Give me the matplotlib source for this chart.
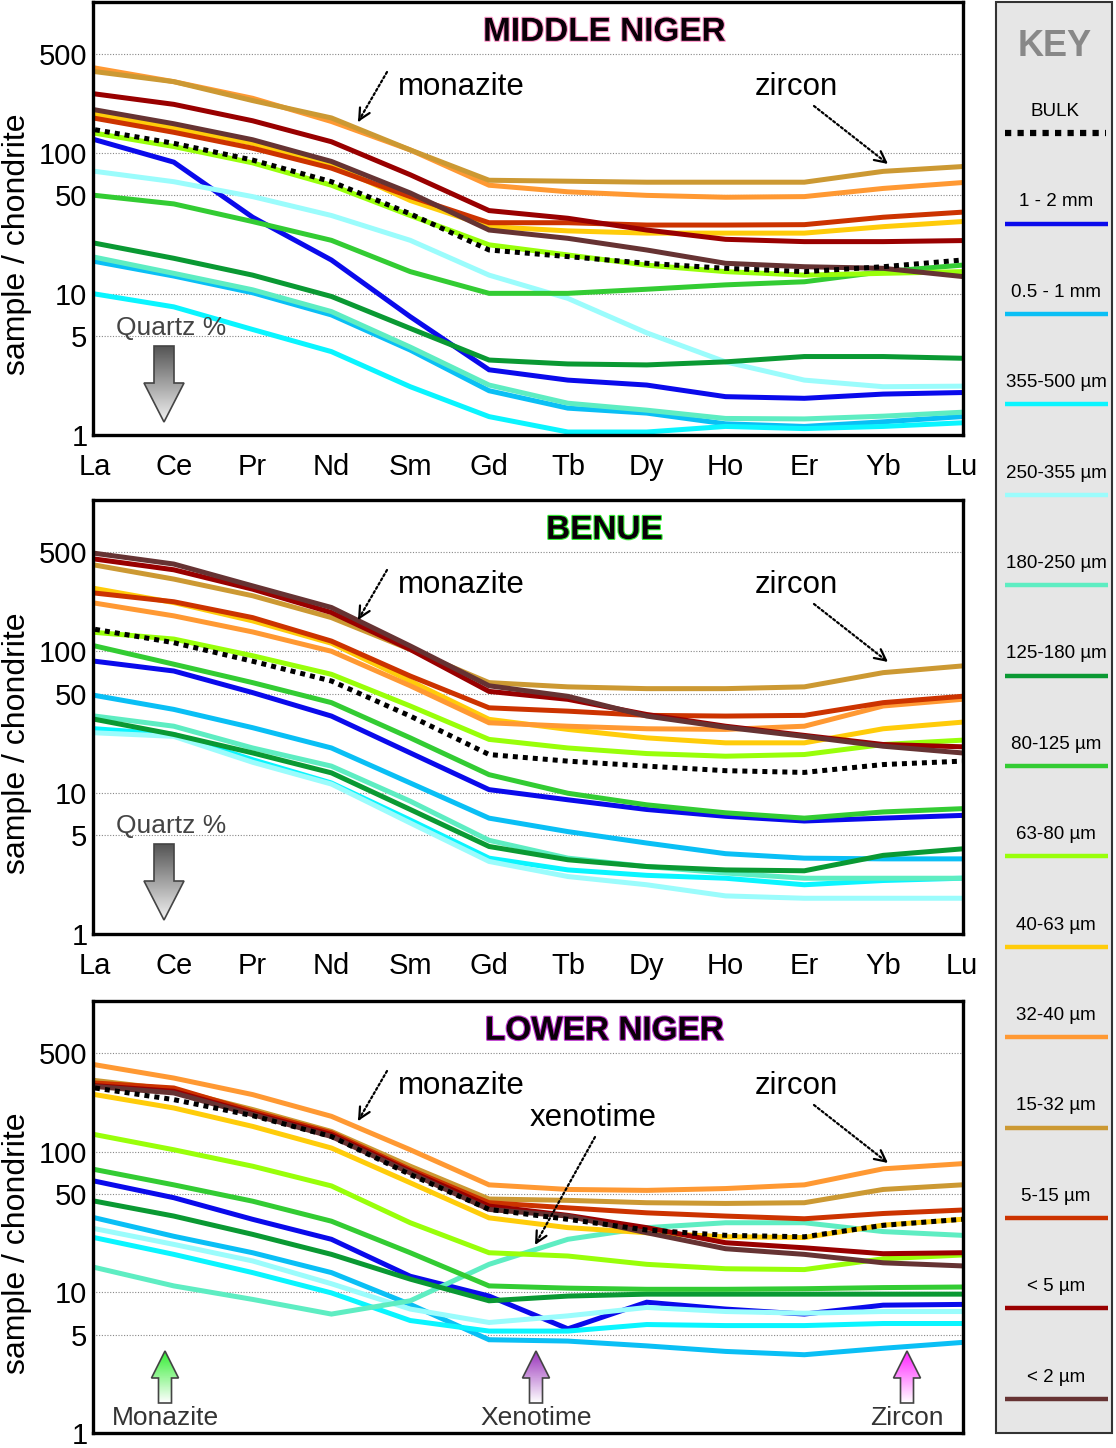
import numpy as np
import matplotlib
matplotlib.use("Agg")
import matplotlib.pyplot as plt
import matplotlib.patheffects as pe
import matplotlib.transforms as mtransforms
from matplotlib.patches import Polygon, Rectangle
from matplotlib.colors import LinearSegmentedColormap

plt.rcParams['font.family'] = ['Liberation Sans', 'DejaVu Sans']

elements = ['La', 'Ce', 'Pr', 'Nd', 'Sm', 'Gd', 'Tb', 'Dy', 'Ho', 'Er', 'Yb', 'Lu']
fractions = ['1 - 2 mm', '0.5 - 1 mm', '355-500 µm', '250-355 µm', '180-250 µm',
             '125-180 µm', '80-125 µm', '63-80 µm', '40-63 µm', '32-40 µm',
             '15-32 µm', '5-15 µm', '< 5 µm', '< 2 µm']
colors = ['#0a0aeb', '#0abff5', '#0af5ff', '#9bfcfc', '#5eedc2', '#0a9933', '#33cc33',
          '#99ff0a', '#ffcc0a', '#ff9933', '#cc9933', '#cc3300', '#990000', '#663333']
y_ticks = [1, 5, 10, 50, 100, 500]

# sample/chondrite, one row per fraction (same order as fractions)
middle_niger = [
    [124, 86, 35, 17.4, 6.9, 2.9, 2.45, 2.26, 1.87, 1.82, 1.95, 2.0],
    [17, 13.4, 10.2, 7.1, 4.0, 2.06, 1.55, 1.43, 1.2, 1.15, 1.24, 1.35],
    [10, 8.1, 5.6, 3.9, 2.2, 1.35, 1.05, 1.05, 1.15, 1.11, 1.15, 1.22],
    [74, 62.5, 49, 36, 24, 13.6, 9.3, 5.3, 3.3, 2.45, 2.2, 2.22],
    [18.2, 14, 10.7, 7.5, 4.2, 2.26, 1.68, 1.5, 1.31, 1.3, 1.36, 1.45],
    [22.9, 17.9, 13.6, 9.6, 5.7, 3.4, 3.19, 3.14, 3.3, 3.6, 3.6, 3.5],
    [50, 43.5, 32.6, 24, 14.4, 10.1, 10.1, 10.8, 11.6, 12.2, 14.4, 16],
    [138, 111, 85, 59, 36, 22.3, 18.9, 16, 14.4, 13.6, 14, 14.4],
    [188, 150, 117, 82, 46, 30, 28, 27, 27, 27, 30, 32.6],
    [400, 320, 244, 167, 105, 59, 53, 50, 48.5, 49, 56, 61.6],
    [377, 320, 235, 177, 105, 64, 63, 62, 62, 62, 74, 80],
    [176, 140, 108, 78, 49, 32, 32, 30.8, 30.8, 31, 35, 38],
    [262, 221, 169, 120, 70, 39, 34.4, 28.4, 24.4, 23.5, 23.5, 23.9],
    [202, 161, 124, 87, 52, 28.4, 24.8, 20.5, 16.5, 15.6, 15.2, 13.3],
]
middle_niger_bulk = [146, 117, 89, 62.5, 37, 20.5, 18.4, 16.5, 15.2, 14.4, 15.6, 17.4]

benue = [
    [85, 72.5, 51, 34.8, 19.1, 10.5, 8.9, 7.6, 6.8, 6.3, 6.6, 6.9],
    [48.7, 38.8, 28.8, 20.7, 11.7, 6.6, 5.3, 4.4, 3.7, 3.44, 3.4, 3.4],
    [28.3, 25.8, 17.1, 11.7, 6.4, 3.44, 2.84, 2.6, 2.48, 2.23, 2.39, 2.48],
    [26.5, 25, 16.4, 11.5, 6.1, 3.26, 2.55, 2.23, 1.86, 1.79, 1.79, 1.79],
    [34.8, 29.5, 20.7, 15.4, 8.7, 4.6, 3.44, 3.0, 2.7, 2.48, 2.48, 2.48],
    [33, 25.8, 19.1, 13.8, 7.6, 4.16, 3.35, 3.0, 2.84, 2.8, 3.6, 4.0],
    [109, 81, 60, 43.3, 24.4, 13.4, 9.9, 8.2, 7.2, 6.6, 7.3, 7.7],
    [136, 122, 93, 68.7, 41, 23.8, 20.7, 18.9, 18.1, 18.6, 21.9, 23.5],
    [278, 221, 164, 114, 61.6, 33, 28, 24.4, 22.5, 22.5, 28.3, 31.5],
    [219, 178, 137, 100, 57, 31.2, 29.5, 28.3, 28, 29.5, 41, 45.7],
    [407, 324, 247, 173, 103, 60, 56, 54.4, 54.4, 56, 70.6, 78.7],
    [258, 224, 173, 118, 66.8, 39.8, 37.7, 35.2, 34.8, 35.2, 43.3, 48],
    [449, 377, 275, 188, 103, 52, 45.7, 35.7, 29.5, 25.4, 21.9, 21.1],
    [493, 414, 290, 204, 109, 57, 48, 34.8, 29, 25, 21.3, 19.1],
]
benue_bulk = [143, 115, 85, 61.6, 34.8, 18.6, 16.7, 15.4, 14.3, 13.9, 15.8, 16.7]

lower_niger = [
    [61.6, 47, 33, 23.8, 13, 9.4, 5.5, 8.5, 7.6, 7.0, 8.1, 8.2],
    [33.8, 25, 19.1, 13.8, 8.2, 4.6, 4.5, 4.16, 3.8, 3.6, 4.0, 4.4],
    [24.4, 18.6, 13.8, 9.9, 6.3, 5.3, 5.3, 5.9, 5.8, 5.8, 6.0, 6.0],
    [28.3, 21.9, 16.7, 11.5, 7.6, 6.1, 6.8, 7.8, 7.3, 7.1, 7.3, 7.3],
    [15, 11.1, 8.9, 7.0, 8.7, 15.8, 23.8, 28.8, 31.2, 31.2, 27, 25.4],
    [44.4, 34.8, 25.8, 18.6, 12.4, 8.7, 9.4, 9.7, 9.7, 9.7, 9.7, 9.7],
    [74.5, 58, 44.4, 32, 19.1, 11.1, 10.7, 10.5, 10.5, 10.6, 10.8, 10.9],
    [132, 103, 78.7, 57, 31.2, 19.1, 18.1, 15.8, 14.7, 14.5, 17.3, 18.4],
    [254, 204, 151, 106, 60, 33.8, 28.8, 26.5, 24.8, 24.5, 30, 33],
    [414, 333, 254, 178, 103, 58, 53.8, 53, 54.6, 58, 75.4, 82],
    [320, 275, 199, 139, 78.7, 46, 45, 43.3, 42.8, 43.3, 53.8, 58],
    [307, 283, 193, 136, 74.5, 43.3, 39.8, 36.7, 34.8, 33.3, 36.3, 38.4],
    [294, 268, 187, 132, 72.5, 41, 35.2, 28.8, 22.5, 20.7, 18.8, 19.1],
    [290, 261, 183, 128, 70.6, 38.8, 34.8, 26.5, 20.4, 18.6, 16.2, 15.4],
]
lower_niger_bulk = [283, 234, 180, 128, 68.7, 38.8, 33, 27.7, 25.4, 24.8, 29.9, 33]

panels = [('MIDDLE NIGER', '#ff99cc', middle_niger, middle_niger_bulk, 2, 435, True),
          ('BENUE', '#33ee33', benue, benue_bulk, 500, 934, True),
          ('LOWER NIGER', '#bb33cc', lower_niger, lower_niger_bulk, 1001, 1433, False)]

W, H = 1116, 1448
fig = plt.figure(figsize=(W / 100, H / 100), dpi=100)
x = np.arange(len(elements))

for title, glow, rows, bulk, top, bot, show_x in panels:
    ax = fig.add_axes([93 / W, 1 - bot / H, 870 / W, (bot - top) / H])
    for vals, c in zip(rows, colors):
        ax.plot(x, vals, color=c, lw=3.6, solid_joinstyle='miter')
    ax.plot(x, bulk, color='black', lw=3.6, ls=(0, (1, 1)))
    ax.set_yscale('log')
    ax.set_ylim(1, 10 ** 3.07)
    ax.set_xlim(-0.025, 11.013)
    ax.set_yticks(y_ticks)
    ax.set_yticklabels([str(t) for t in y_ticks])
    ax.yaxis.set_minor_locator(matplotlib.ticker.NullLocator())
    ax.set_xticks(x)
    if show_x:
        ax.set_xticklabels(elements)
        labels = ax.get_xticklabels()
        labels[0].set_transform(labels[0].get_transform() +
                                mtransforms.ScaledTranslation(6 / 100, 0, fig.dpi_scale_trans))
        labels[-1].set_transform(labels[-1].get_transform() +
                                 mtransforms.ScaledTranslation(-2 / 100, 0, fig.dpi_scale_trans))
    else:
        ax.set_xticklabels([])
    ax.tick_params(axis='x', length=0, pad=13, labelsize=21)
    ax.tick_params(axis='y', length=0, pad=4, labelsize=21)
    ax.grid(axis='y', ls=(0, (1, 1.5)), color='#888888', lw=0.8)
    ax.set_axisbelow(True)
    for s in ax.spines.values():
        s.set_linewidth(2.4)
    ax.set_ylabel('sample / chondrite', fontsize=23)
    ax.yaxis.set_label_coords(-0.07, 0.44)
    ax.text(0.588, 0.93, title, transform=ax.transAxes, ha='center', va='center',
            fontsize=24, fontweight='bold', color='#0a0008',
            path_effects=[pe.withStroke(linewidth=1.6, foreground=glow)])

# overlay in pixel coordinates for annotations and key
ov = fig.add_axes([0, 0, 1, 1])
ov.patch.set_alpha(0)
ov.axis('off')


def dotted_arrow(start, end):
    ov.annotate('', xy=end, xytext=start,
                arrowprops=dict(arrowstyle='-', ls=(0, (1, 1.2)), lw=1.6, color='black',
                                shrinkA=0, shrinkB=2))
    d = np.subtract(end, start)
    ov.annotate('', xy=end, xytext=np.subtract(end, d * 0.05),
                arrowprops=dict(arrowstyle='->', lw=1.6, color='black',
                                mutation_scale=20, shrinkA=0, shrinkB=0))


def block_arrow(cx, y_tail, y_base, y_tip, shaft_w, head_w, c_top, c_bot):
    pts = [(cx - shaft_w / 2, y_tail), (cx + shaft_w / 2, y_tail), (cx + shaft_w / 2, y_base),
           (cx + head_w / 2, y_base), (cx, y_tip), (cx - head_w / 2, y_base),
           (cx - shaft_w / 2, y_base)]
    poly = Polygon(pts, closed=True, fc='none', ec='#444444', lw=1.2, zorder=5)
    ov.add_patch(poly)
    cmap = LinearSegmentedColormap.from_list('g', [c_top, c_bot])
    grad = np.linspace(0, 1, 100).reshape(-1, 1)
    y0, y1 = min(y_tail, y_tip), max(y_tail, y_tip)
    im = ov.imshow(grad, extent=[cx - head_w / 2, cx + head_w / 2, y1, y0], aspect='auto',
                   cmap=cmap, zorder=4, origin='upper')
    im.set_clip_path(poly)


for top in (2, 500, 1001):
    ov.text(398, top + 85, 'monazite', fontsize=22.5, va='center', ha='left')
    ov.text(755, top + 85, 'zircon', fontsize=22.5, va='center', ha='left')
    dotted_arrow((387, top + 70), (358, top + 120))
    dotted_arrow((814, top + 104), (888, top + 162))

for top in (2, 500):
    ov.text(116, top + 326, 'Quartz %', fontsize=19, color='#444444', va='center', ha='left')
    block_arrow(164, top + 344, top + 381, top + 420, 20, 40, '#555555', '#f2f2f2')

ov.text(530, 1118, 'xenotime', fontsize=22.5, va='center', ha='left')
dotted_arrow((595, 1137), (535, 1245))

for cx, name, c in [(165, 'Monazite', '#33ee33'), (536, 'Xenotime', '#9933bb'),
                    (907, 'Zircon', '#ff22ff')]:
    block_arrow(cx, 1403, 1378, 1351, 13, 27, c, '#ffffff')
    ov.text(cx, 1418, name, fontsize=19, color='#333333', va='center', ha='center')

# key panel
ov.add_patch(Rectangle((996, 2), 116, 1431, fc='#e6e6e6', ec='#333333', lw=1.5, zorder=1))
ov.text(1055, 47, 'KEY', fontsize=26, fontweight='bold', color='#888888',
        ha='center', va='center', zorder=3)
ov.text(1055, 112, 'BULK', fontsize=13.5, ha='center', va='center', zorder=3)
ov.plot([1005, 1106], [133, 133], color='black', lw=4.5, ls=(0, (1, 1)), zorder=3)
for i, (lab, c) in enumerate(zip(fractions, colors)):
    yl = 202 + i * 90.4
    ov.text(1056, yl, lab, fontsize=13.5, ha='center', va='center', zorder=3)
    ov.plot([1005, 1108], [yl + 21.5, yl + 21.5], color=c, lw=3.2, zorder=3,
            solid_capstyle='butt')

ov.set_xlim(0, W)
ov.set_ylim(H, 0)

fig.savefig('out.png', dpi=100)
